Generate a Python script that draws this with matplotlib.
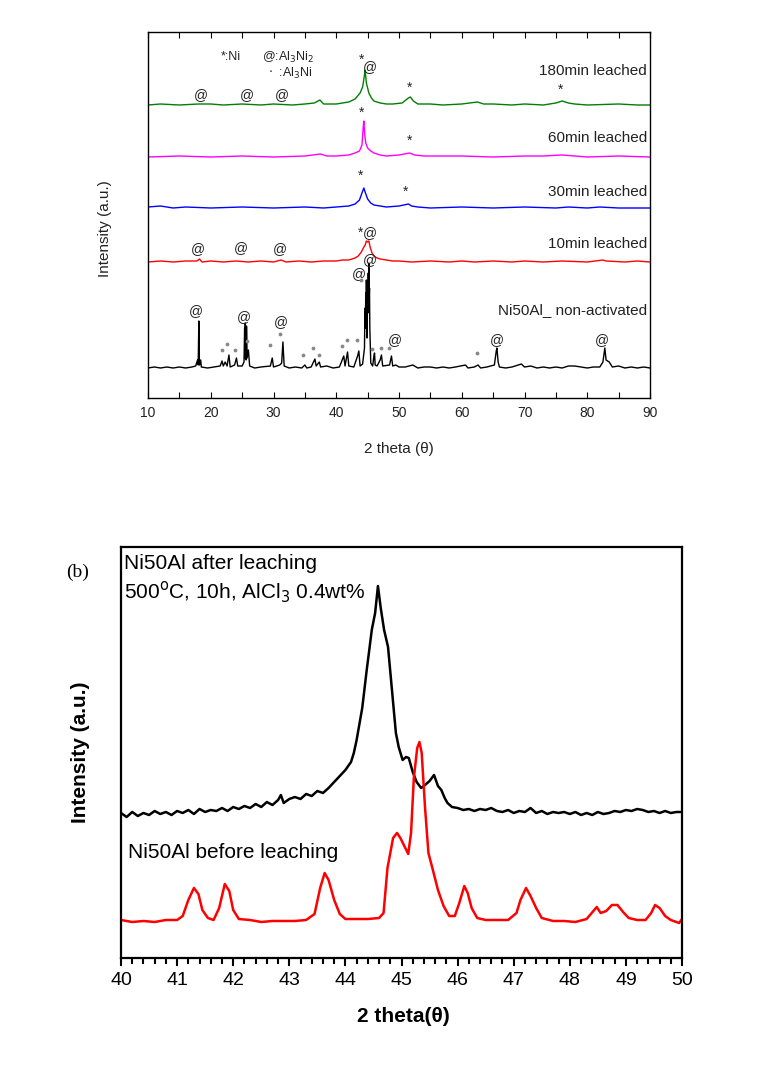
import matplotlib
matplotlib.use("Agg")
import matplotlib.pyplot as plt
from matplotlib.ticker import MultipleLocator
from matplotlib import font_manager

# ------------------------
# fontes
# ------------------------
nomes = {f.name for f in font_manager.fontManager.ttflist}
SANS = "Liberation Sans" if "Liberation Sans" in nomes else "DejaVu Sans"
NARROW = "Liberation Sans Narrow" if "Liberation Sans Narrow" in nomes else SANS
SERIF = "Liberation Serif" if "Liberation Serif" in nomes else "DejaVu Serif"
plt.rcParams["font.family"] = SANS

# ------------------------
# (a) DRX de 10 a 90 graus — intensidade relativa à linha de base (u.a.)
# ------------------------
base_a = {"non": 30, "10": 136, "30": 190, "60": 241, "180": 293}

tt_non = [10, 11, 12, 13, 14, 15, 16, 17, 17.6, 17.9, 18.0, 18.1, 18.2, 18.4, 18.5, 19.5,
          20.5, 21.5, 21.8, 22.0, 22.3, 22.6, 22.9, 23.1, 23.8, 24.1, 24.3, 25.0, 25.3,
          25.4, 25.45, 25.5, 25.55, 25.6, 25.65, 25.7, 25.8, 26.0, 26.2, 27, 28, 29.5,
          29.8, 30.0, 31.0, 31.3, 31.5, 31.7, 32.5, 33.5, 34.5, 35.0, 35.3, 36.0, 36.6,
          36.8, 37.3, 37.5, 38.5, 39.5, 40.5, 41.0, 41.2, 41.4, 41.8, 42.0, 42.8, 43.4,
          43.6, 43.8, 44.2, 44.5, 44.55, 44.6, 44.65, 44.7, 44.75, 44.8, 44.85, 44.9,
          44.95, 45.0, 45.05, 45.1, 45.15, 45.2, 45.25, 45.3, 45.35, 45.5, 45.8, 46.0,
          46.1, 46.2, 46.5, 47.0, 47.2, 47.4, 48.5, 48.8, 49.0, 49.5, 50, 51, 52.2, 53,
          54, 55, 56, 57, 58, 59, 60.6, 61, 62, 62.6, 63, 64, 65.2, 65.5, 65.6, 65.8,
          66, 67, 68, 69.5, 70, 71, 72, 73, 74, 75, 76, 77, 78, 79, 80, 81, 82, 82.5,
          82.8, 83.0, 83.5, 84, 85, 86, 87, 88, 89, 90]
y_non = [0, 1, 0, 1, 0, 1, 0, 1, 2, 8, 3, 47, 3, 8, 1, 0,
         1, 2, 7, 2, 6, 2, 13, 1, 3, 10, 2, 2, 6,
         40, 10, 45, 12, 20, 8, 42, 10, 18, 2, 0, 1, 2,
         10, 1, 3, 5, 26, 2, 0, 1, 0, 3, 0, 1, 9,
         2, 6, 1, 2, 0, 1, 9, 12, 2, 16, 2, 1, 12,
         17, 2, 4, 20, 50, 60, 40, 75, 45, 88, 60, 30,
         70, 85, 55, 95, 60, 105, 70, 80, 40, 5, 2, 12,
         15, 3, 2, 8, 13, 2, 3, 12, 2, 3, 1, 1, 3, 0,
         1, 1, 0, 1, 0, 1, 3, 0, 1, 3, 0, 1, 3, 17, 20, 6,
         1, 0, 1, 4, 1, 2, 0, 1, 0, 1, 0, 2, 2, 1, 0, 1, 1, 6,
         20, 8, 6, 1, 2, 0, 1, 0, 1, 0]

tt_10 = [10, 12, 14, 16, 17.8, 18.2, 18.6, 20, 22, 24, 26, 28, 30, 31.2, 32, 34, 36, 38,
         40, 41, 42, 43, 43.5, 44, 44.4, 44.6, 44.8, 45.0, 45.2, 45.4, 45.7, 46, 46.5,
         47, 48, 49, 50, 52, 55, 58, 60, 62, 65, 68, 70, 73, 76, 80, 82.5, 83, 86, 88, 90]
y_10 = [0, 1, 0, 1, 1, 3, 0, 1, 0, 1, 0, 1, 0, 2, 0, 1, 0, 1,
        1, 2, 2, 4, 6, 10, 15, 17, 21, 20, 21, 15, 9, 6, 4,
        3, 2, 1, 1, 0, 1, 0, 1, 0, 1, 0, 1, 0, 1, 0, 2, 1, 0, 1, 0]

tt_30 = [10, 12, 14, 16, 20, 25, 30, 35, 38, 40, 42, 43, 43.7, 44.1, 44.4, 44.6, 45,
         45.5, 46, 47, 48, 50, 51.5, 52, 53, 55, 60, 65, 70, 75, 77, 80, 82, 85, 90]
y_30 = [1, 2, 0, 1, 0, 1, 0, 1, 0, 1, 2, 4, 8, 15, 20, 16, 9,
        5, 3, 2, 1, 2, 4, 2, 1, 0, 1, 0, 1, 0, 1, 0, 1, 0, 0]

tt_60 = [10, 15, 20, 25, 30, 35, 37.5, 38.5, 40, 42, 43, 43.7, 44.1, 44.3, 44.4, 44.5,
         44.7, 45, 45.5, 46, 47, 48, 50, 51.7, 52.5, 54, 56, 60, 65, 70, 73, 76, 78,
         80, 85, 90]
y_60 = [0, 1, 0, 1, 0, 1, 3, 1, 1, 2, 4, 6, 12, 30, 36, 25,
        14, 9, 6, 4, 2, 1, 2, 4, 2, 1, 1, 1, 0, 1, 1, 2, 1,
        0, 1, 0]

tt_180 = [10, 12, 15, 18, 20, 22, 25, 28, 30, 33, 35, 36.5, 37.4, 38, 40, 41, 42, 43,
          43.8, 44.2, 44.5, 44.6, 44.8, 45.2, 45.6, 46, 47, 48, 49, 50.5, 51.5, 51.8,
          52.3, 53, 55, 57, 60, 62.5, 63.5, 65, 68, 70, 73, 75, 76, 77, 78, 80, 85, 88, 90]
y_180 = [0, 1, 0, 1, 1, 0, 1, 0, 1, 0, 1, 2, 5, 1, 1, 2, 3, 6,
         12, 18, 30, 35, 22, 12, 7, 4, 2, 1, 1, 2, 7, 8,
         4, 1, 1, 0, 1, 3, 1, 1, 0, 1, 0, 2, 4, 2, 1, 0, 1, 0, 0]

# marcadores de fases (2θ, altura no gráfico)
arroba_tt = [17.6, 25.3, 31.2, 43.6, 45.3, 49.3, 65.6, 82.3,
             18.0, 24.8, 31.0, 45.4,
             18.5, 25.7, 31.3, 45.4]
arroba_y = [87, 81, 76, 124, 138, 58, 58, 58,
            149, 150, 149, 165,
            303, 303, 303, 331]
estrela_tt = [43.8, 43.8, 51.0, 44.05, 51.6, 44.0, 51.6, 75.8]
estrela_y = [165, 222, 206, 285, 257, 338, 310, 308]
ponto_tt = [21.8, 22.6, 23.8, 25.8, 29.4, 31.0, 34.7, 36.3, 37.2, 40.9, 41.7, 43.3,
            43.9, 45.7, 47.1, 48.4, 62.4]
ponto_y = [48, 54, 48, 57, 53, 64, 43, 50, 43, 52, 58, 58,
           118, 49, 50, 50, 45]

rotulos_a = ["180min leached", "60min leached", "30min leached", "10min leached",
             "Ni50Al_ non-activated"]
rotulos_a_y = [327, 260, 206, 154, 88]

# ------------------------
# (b) DRX de 40 a 50 graus
# ------------------------
tt_depois = [40.0, 40.1, 40.2, 40.3, 40.4, 40.5, 40.6, 40.7, 40.8, 40.9, 41.0, 41.1, 41.2,
             41.3, 41.4, 41.5, 41.6, 41.7, 41.8, 41.9, 42.0, 42.1, 42.2, 42.3, 42.4, 42.5,
             42.6, 42.7, 42.8, 42.85, 42.9, 43.0, 43.1, 43.2, 43.3, 43.4, 43.5, 43.6, 43.7,
             43.8, 43.9, 44.0, 44.1, 44.15, 44.2, 44.3, 44.38, 44.43, 44.47, 44.53, 44.58,
             44.63, 44.69, 44.76, 44.83, 44.9, 44.95, 45.02, 45.08, 45.13, 45.2, 45.27,
             45.35, 45.4, 45.5, 45.58, 45.65, 45.71, 45.77, 45.82, 45.9, 46.0, 46.1, 46.2,
             46.3, 46.4, 46.5, 46.6, 46.7, 46.8, 46.9, 47.0, 47.1, 47.2, 47.3, 47.4, 47.5,
             47.6, 47.7, 47.8, 47.9, 48.0, 48.1, 48.2, 48.3, 48.4, 48.5, 48.6, 48.7, 48.8,
             48.9, 49.0, 49.1, 49.2, 49.3, 49.4, 49.5, 49.6, 49.7, 49.8, 49.9, 50.0]
i_depois = [145, 141, 146, 142, 145, 143, 147, 144, 146, 143, 147, 145, 148,
            144, 149, 146, 148, 147, 150, 147, 151, 149, 152, 150, 154, 151,
            156, 153, 158, 163, 155, 159, 161, 159, 164, 162, 167, 165, 170,
            176, 182, 188, 196, 205, 218, 250, 288, 310, 328, 345, 372,
            350, 328, 311, 268, 225, 211, 198, 201, 200, 186, 176,
            170, 172, 177, 183, 172, 168, 160, 155, 151, 150, 148, 149,
            147, 149, 148, 150, 147, 146, 148, 145, 147, 146, 150, 145, 147,
            144, 146, 145, 146, 144, 146, 143, 145, 143, 146, 144, 145, 147,
            146, 148, 147, 149, 148, 146, 147, 145, 147, 145, 146, 146]

tt_antes = [40.0, 40.2, 40.4, 40.6, 40.8, 41.0, 41.1, 41.2, 41.3, 41.38, 41.45, 41.55,
            41.65, 41.75, 41.85, 41.93, 42.0, 42.1, 42.3, 42.5, 42.7, 42.9, 43.1, 43.3,
            43.45, 43.55, 43.63, 43.7, 43.8, 43.9, 44.0, 44.2, 44.4, 44.6, 44.68, 44.75,
            44.85, 44.92, 44.98, 45.05, 45.12, 45.17, 45.22, 45.28, 45.32, 45.36, 45.42,
            45.48, 45.55, 45.65, 45.75, 45.85, 45.95, 46.03, 46.12, 46.18, 46.25, 46.35,
            46.5, 46.7, 46.9, 47.05, 47.12, 47.22, 47.3, 47.4, 47.5, 47.7, 47.9, 48.1,
            48.3, 48.42, 48.48, 48.55, 48.65, 48.75, 48.85, 48.95, 49.05, 49.2, 49.35,
            49.45, 49.52, 49.6, 49.7, 49.8, 49.9, 49.95, 50.0]
i_antes = [38, 36, 37, 36, 38, 38, 42, 58, 70, 64, 48, 40,
           38, 50, 74, 67, 48, 39, 38, 36, 37, 37, 37, 38,
           44, 70, 85, 78, 58, 44, 39, 39, 39, 40, 45, 90,
           120, 125, 120, 112, 104, 125, 180, 210, 216, 205, 150,
           105, 90, 68, 52, 42, 42, 55, 72, 65, 50, 40,
           38, 38, 38, 45, 58, 70, 62, 50, 40, 37, 37, 36,
           39, 47, 51, 45, 47, 53, 53, 46, 40, 38, 38,
           45, 53, 50, 42, 38, 36, 35, 39]

# ------------------------
# figura
# ------------------------
W, H = 784, 1075
fig = plt.figure(figsize=(W / 100, H / 100), dpi=100)

def caixa(x0, y0, x1, y1):
    return [x0 / W, 1 - y1 / H, (x1 - x0) / W, (y1 - y0) / H]

cor_txt = "#222222"

# ---------- painel (a) ----------
ax1 = fig.add_axes(caixa(148, 32, 650, 398))
series = [(tt_non, y_non, base_a["non"], "black"),
          (tt_10, y_10, base_a["10"], "#ff0000"),
          (tt_30, y_30, base_a["30"], "#0000ff"),
          (tt_60, y_60, base_a["60"], "#ff00ff"),
          (tt_180, y_180, base_a["180"], "#008000")]
for tt, yy, b, c in series:
    ax1.plot(tt, [b + v for v in yy], color=c, lw=1.0)

for t, y in zip(arroba_tt, arroba_y):
    ax1.text(t, y, "@", fontsize=10, color=cor_txt, ha="center", va="center")
for t, y in zip(estrela_tt, estrela_y):
    ax1.text(t, y, "*", fontsize=10, color=cor_txt, ha="center", va="center")
ax1.scatter(ponto_tt, ponto_y, s=3, color="#888888", zorder=3)

for txt, y in zip(rotulos_a, rotulos_a_y):
    ax1.text(89.5, y, txt, fontsize=11, color=cor_txt, ha="right", va="center")

# legenda das fases
ax1.text(21.6, 341, "*:Ni", fontsize=9, color=cor_txt, va="center")
ax1.text(28.2, 341, r"@:Al$_3$Ni$_2$", fontsize=9, color=cor_txt, va="center")
ax1.text(29.2, 325, r"$\cdot$  :Al$_3$Ni", fontsize=9, color=cor_txt, va="center")

ax1.set_xlim(10, 90)
ax1.set_ylim(0, 366)
ax1.set_yticks([])
ax1.xaxis.set_major_locator(MultipleLocator(10))
ax1.xaxis.set_minor_locator(MultipleLocator(5))
ax1.tick_params(axis="x", which="both", direction="in", top=True, length=4,
                width=0.8, labelsize=10, labelcolor=cor_txt, pad=6)
for s in ax1.spines.values():
    s.set_linewidth(1.0)
fig.text(399 / W, 1 - 449 / H, "2 theta (θ)", fontsize=11, color=cor_txt,
         ha="center", va="center")
fig.text(105 / W, 1 - 229 / H, "Intensity (a.u.)", fontsize=11, color=cor_txt,
         ha="center", va="center", rotation=90)

# ---------- painel (b) ----------
ax2 = fig.add_axes(caixa(121, 547, 682, 958))
ax2.plot(tt_depois, i_depois, color="black", lw=1.8)
ax2.plot(tt_antes, i_antes, color="#ff0000", lw=1.8)
ax2.set_xlim(40, 50)
ax2.set_ylim(0, 411)
ax2.set_yticks([])
ax2.xaxis.set_major_locator(MultipleLocator(1))
ax2.xaxis.set_minor_locator(MultipleLocator(0.2))
ax2.tick_params(axis="x", which="major", direction="out", length=6, width=1.5,
                labelsize=14, pad=4)
ax2.tick_params(axis="x", which="minor", direction="out", length=4, width=1.5)
for lab in ax2.get_xticklabels():
    lab.set_family(NARROW)
for s in ax2.spines.values():
    s.set_linewidth(1.6)

ax2.text(40.05, 404, "Ni50Al after leaching", fontsize=15, family=NARROW,
         ha="left", va="top")
ax2.text(40.05, 366, r"500$^{\rm o}$C, 10h, AlCl$_3$ 0.4wt%", fontsize=15,
         family=NARROW, ha="left", va="center")
ax2.text(40.13, 106, "Ni50Al before leaching", fontsize=15, family=NARROW,
         ha="left", va="center")

fig.text(403 / W, 1 - 1016 / H, "2 theta(θ)", fontsize=15, fontweight="bold",
         family=NARROW, ha="center", va="center")
fig.text(80 / W, 1 - 752 / H, "Intensity (a.u.)", fontsize=15, fontweight="bold",
         family=NARROW, ha="center", va="center", rotation=90)
fig.text(78 / W, 1 - 572 / H, "(b)", fontsize=14, family=SERIF,
         ha="center", va="center")

fig.savefig("out.png", dpi=100)
